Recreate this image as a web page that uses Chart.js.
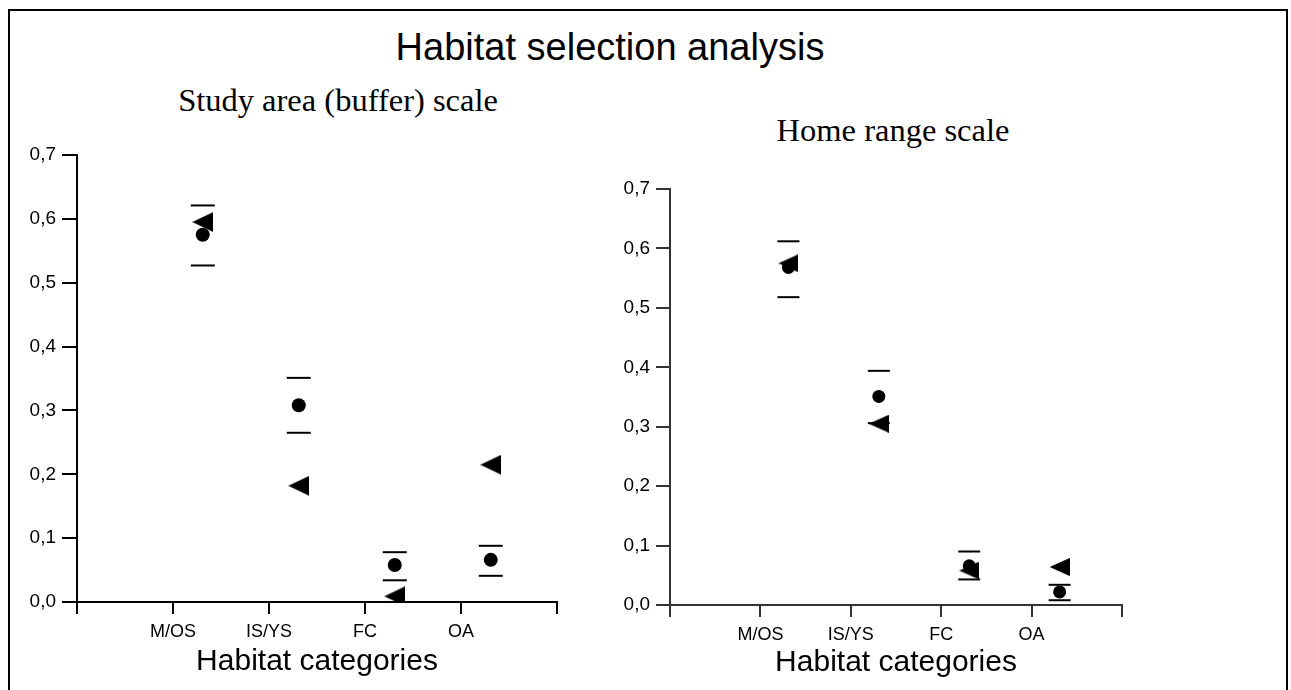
<!DOCTYPE html>
<html>
<head>
<meta charset="utf-8">
<script src="https://cdn.jsdelivr.net/npm/chart.js@4"></script>
<style>
  body { margin: 0; background: #fff; width: 1291px; height: 690px; overflow: hidden; position: relative; }
  #frame { position: absolute; left: 8px; top: 9px; width: 1280px; height: 720px; border: 2px solid #000; box-sizing: border-box; }
  canvas { position: absolute; top: 0; }
  .txt { position: absolute; transform: translate(-50%, -50%); line-height: 1; white-space: nowrap; color: #000; }
  #mainTitle { left: 610px; top: 47px; font: 38px "Liberation Sans", Arial, sans-serif; }
  .sub { font: 32.5px "Liberation Serif", "Times New Roman", serif; }
</style>
</head>
<body>
<div id="frame"></div>
<div id="mainTitle" class="txt">Habitat selection analysis</div>
<div class="txt sub" style="left:338px; top:100px;">Study area (buffer) scale</div>
<div class="txt sub" style="left:893px; top:130px;">Home range scale</div>
<canvas id="leftChart" width="600" height="690" style="left:0"></canvas>
<canvas id="rightChart" width="600" height="690" style="left:600px"></canvas>
<script>
// Categorías de hábitat
const categories = ['M/OS', 'IS/YS', 'FC', 'OA'];
const yTicks = [0, 0.1, 0.2, 0.3, 0.4, 0.5, 0.6, 0.7];

// Escala del área de estudio (buffer)
const bufferUsed = [0.575, 0.308, 0.058, 0.066];
const bufferAvailable = [0.595, 0.182, 0.009, 0.215];
const bufferUpper = [0.621, 0.351, 0.078, 0.088];
const bufferLower = [0.527, 0.265, 0.034, 0.041];

// Escala del área de campeo
const homeUsed = [0.568, 0.351, 0.066, 0.022];
const homeAvailable = [0.575, 0.305, 0.058, 0.064];
const homeUpper = [0.612, 0.394, 0.090, 0.034];
const homeLower = [0.518, 0.306, 0.043, 0.008];

// desplazamiento de los puntos a la derecha de cada categoría
const shift = 0.31;

// Triángulo apuntando a la izquierda
function makeTriangle(w, h) {
    const c = document.createElement('canvas');
    c.width = w;
    c.height = h;
    const g = c.getContext('2d');
    g.fillStyle = '#000';
    g.beginPath();
    g.moveTo(0, h / 2);
    g.lineTo(w, 0);
    g.lineTo(w, h);
    g.closePath();
    g.fill();
    return c;
}

function toPoints(values) {
    return values.map((v, i) => ({ x: i + 1 + shift, y: v }));
}

function buildChart(id, sets, geo) {
    const ctx = document.getElementById(id).getContext('2d');
    return new Chart(ctx, {
        type: 'scatter',
        data: {
            datasets: [
                { label: 'Available', data: toPoints(sets.available), pointStyle: makeTriangle(geo.triW, geo.triH) },
                { label: 'Used', data: toPoints(sets.used), pointStyle: 'circle', pointRadius: geo.dot, backgroundColor: '#000', borderWidth: 0 },
                { label: 'Upper CI', data: toPoints(sets.upper), pointStyle: 'line', pointRadius: geo.cap, borderColor: '#000', borderWidth: 2 },
                { label: 'Lower CI', data: toPoints(sets.lower), pointStyle: 'line', pointRadius: geo.cap, borderColor: '#000', borderWidth: 2 }
            ]
        },
        options: {
            responsive: false,
            animation: false,
            layout: { padding: geo.padding },
            plugins: { legend: { display: false }, tooltip: { enabled: false } },
            scales: {
                x: {
                    type: 'linear',
                    min: 0,
                    max: 5,
                    afterFit: (s) => { s.height = geo.xHeight; },
                    ticks: {
                        stepSize: 1,
                        autoSkip: false,
                        maxRotation: 0,
                        padding: 7,
                        color: '#000',
                        font: { family: 'Liberation Sans', size: 18 },
                        callback: (v) => categories[v - 1] || ''
                    },
                    grid: { drawOnChartArea: false, drawTicks: true, tickLength: 12, color: geo.axisColor, lineWidth: 2 },
                    border: { display: true, color: geo.axisColor, width: 2 },
                    title: {
                        display: true,
                        text: 'Habitat categories',
                        color: '#000',
                        padding: 0,
                        font: { family: 'Liberation Sans', size: 30 }
                    }
                },
                y: {
                    min: 0,
                    max: 0.7,
                    afterFit: (s) => { s.width = geo.yWidth; },
                    afterBuildTicks: (s) => { s.ticks = yTicks.map(v => ({ value: v })); },
                    ticks: {
                        padding: 6,
                        color: '#000',
                        font: { family: 'Liberation Sans', size: 19 },
                        callback: (v) => v.toFixed(1).replace('.', ',')
                    },
                    grid: { drawOnChartArea: false, drawTicks: true, tickLength: geo.yTick, color: geo.axisColor, lineWidth: 2 },
                    border: { display: true, color: geo.axisColor, width: 2 }
                }
            }
        }
    });
}

buildChart('leftChart',
    { used: bufferUsed, available: bufferAvailable, upper: bufferUpper, lower: bufferLower },
    { padding: { left: 0, right: 43, top: 155, bottom: 10 }, xHeight: 78, yWidth: 77, yTick: 15,
      triW: 21, triH: 20, dot: 7, cap: 12, axisColor: '#000' });

buildChart('rightChart',
    { used: homeUsed, available: homeAvailable, upper: homeUpper, lower: homeLower },
    { padding: { left: 0, right: 78, top: 189, bottom: 9 }, xHeight: 76, yWidth: 70, yTick: 14,
      triW: 20, triH: 18, dot: 6.5, cap: 11, axisColor: '#333' });
</script>
</body>
</html>
